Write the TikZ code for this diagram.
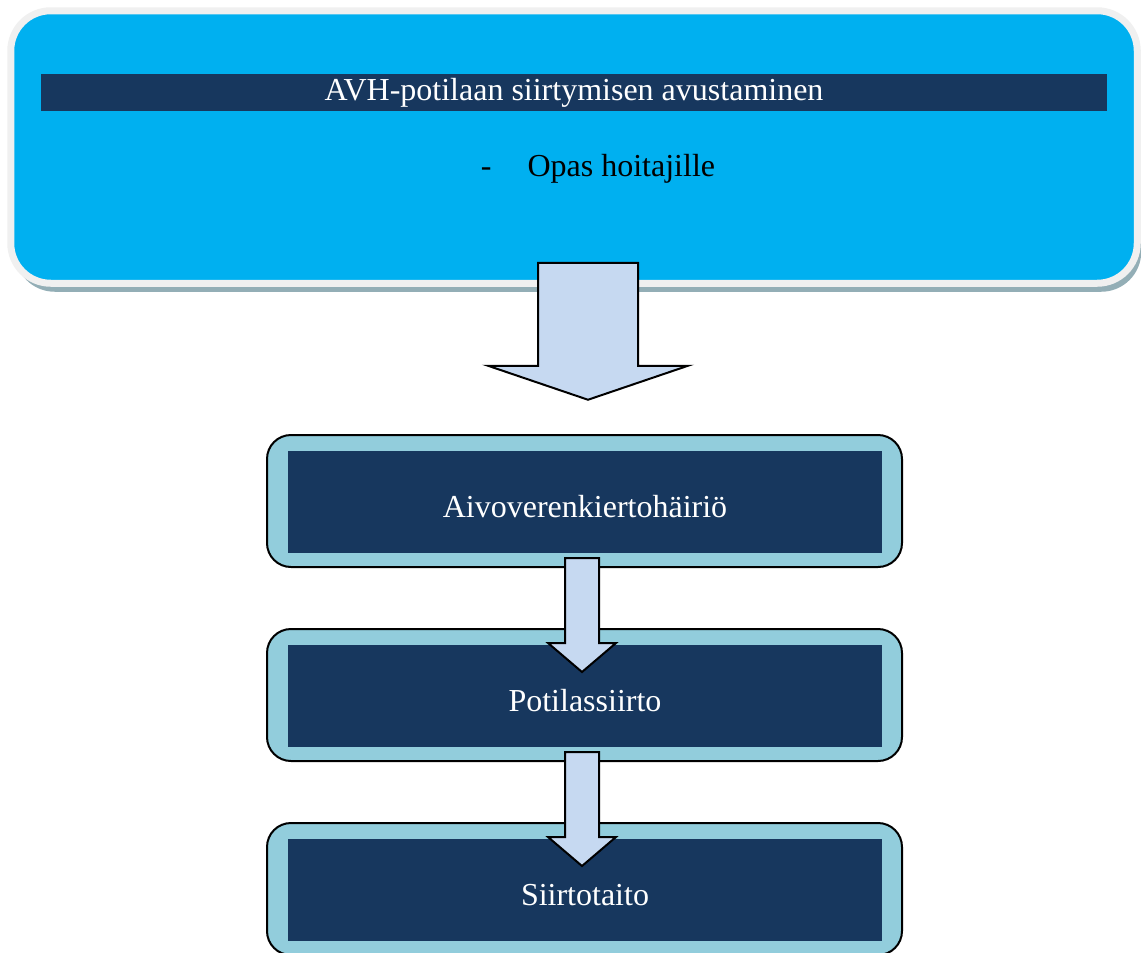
\documentclass[tikz,border=0pt]{standalone}
\usepackage{fontspec}
\setmainfont{Liberation Serif}
\usetikzlibrary{positioning, shadows}
\definecolor{skyblue}{HTML}{00B0F0}
\definecolor{navy}{HTML}{17375E}
\definecolor{paleblue}{HTML}{C6D9F1}
\definecolor{aqua}{HTML}{92CDDC}
\definecolor{rim}{HTML}{F0F0F0}
\definecolor{shade}{HTML}{93AEB6}
\tikzstyle{banner} = [rectangle, rounded corners=20pt, minimum width=563.25pt, minimum height=136.25pt, fill=skyblue, draw=rim, line width=3.5pt, drop shadow={shadow xshift=2pt, shadow yshift=-4.25pt, fill=shade, opacity=1}]
\tikzstyle{titlebar} = [rectangle, minimum width=533pt, minimum height=18.5pt, inner sep=0pt, fill=navy, text=white]
\tikzstyle{stepbox} = [rectangle, rounded corners=12pt, minimum width=317.5pt, minimum height=66pt, fill=aqua, draw=black, line width=1pt]
\tikzstyle{inlay} = [rectangle, minimum width=297pt, minimum height=51pt, inner sep=0pt, text height=15.5pt, text depth=0pt, fill=navy, text=white]
\tikzstyle{blockarrow} = [draw=black, line width=1pt, fill=paleblue, line join=miter]

\begin{document}
\begin{tikzpicture}[x=0.5pt, y=-0.5pt, font=\fontsize{16}{19}\selectfont]
  \useasboundingbox (0,0) rectangle (1141,953);

  \node (top) [banner] at (574,147) {};
  \node (title) [titlebar] at (574,92.5) {AVH-potilaan siirtymisen avustaminen};
  \node (sub) at (598,169) {-\hspace{18pt}Opas hoitajille};

  \node (box1) [stepbox] at (584.5,501) {};
  \node (box2) [stepbox, below=30pt of box1] {};
  \node (box3) [stepbox, below=30pt of box2] {};
  \node (lab1) [inlay] at ([xshift=0.25pt, yshift=-0.5pt]box1) {Aivoverenkiertohäiriö};
  \node (lab2) [inlay] at ([xshift=0.25pt, yshift=-0.5pt]box2) {Potilassiirto};
  \node (lab3) [inlay] at ([xshift=0.25pt, yshift=-0.5pt]box3) {Siirtotaito};

  % big arrow from the banner
  \draw [blockarrow, shift={(top.south)}] (-36,-24) -- (64,-24) -- (64,79) -- (114,79)
    -- (14,113) -- (-86,79) -- (-36,79) -- cycle;

  % small arrows between the steps
  \foreach \s in {box1,box2}
    \draw [blockarrow, shift={(\s.south)}] (-19.5,-10) -- (14.5,-10) -- (14.5,75) -- (31.5,75)
      -- (-2.5,104) -- (-36.5,75) -- (-19.5,75) -- cycle;
\end{tikzpicture}
\end{document}
